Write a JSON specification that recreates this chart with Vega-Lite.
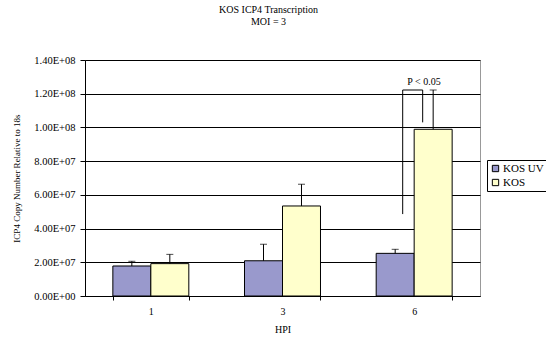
{
  "$schema": "https://vega.github.io/schema/vega-lite/v6.json",
  "autosize": "none",
  "width": 395,
  "height": 236,
  "padding": {"left": 85, "top": 60, "right": 66, "bottom": 45},
  "background": "#ffffff",
  "title": {
    "text": "KOS ICP4 Transcription",
    "subtitle": "MOI = 3",
    "font": "Liberation Serif",
    "subtitleFont": "Liberation Serif",
    "fontSize": 10,
    "subtitleFontSize": 10,
    "fontWeight": "normal",
    "color": "#000",
    "subtitleColor": "#000",
    "subtitlePadding": 2,
    "anchor": "middle",
    "frame": "group",
    "dx": -14,
    "offset": 28
  },
  "datasets": {
    "bars": [
      {"hpi": "1", "series": "KOS UV", "value": 17800000, "upper": 20600000},
      {"hpi": "1", "series": "KOS", "value": 19200000, "upper": 24700000},
      {"hpi": "3", "series": "KOS UV", "value": 20900000, "upper": 30700000},
      {"hpi": "3", "series": "KOS", "value": 53400000, "upper": 66300000},
      {"hpi": "6", "series": "KOS UV", "value": 25300000, "upper": 27700000},
      {"hpi": "6", "series": "KOS", "value": 98900000, "upper": 122200000}
    ],
    "bracket": [
      {"hpi": "6", "top": 122200000, "leftBottom": 48600000, "rightBottom": 103000000, "label": "P < 0.05", "labelY": 127100000}
    ]
  },
  "layer": [
    {
      "data": {"name": "bars"},
      "mark": {"type": "bar", "stroke": "#000", "strokeWidth": 1},
      "encoding": {
        "x": {
          "field": "hpi", "type": "nominal", "title": "HPI", "sort": ["1", "3", "6"],
          "scale": {"paddingInner": 0.423, "paddingOuter": 0.2115}
        },
        "xOffset": {"field": "series", "type": "nominal", "sort": ["KOS UV", "KOS"], "scale": {"paddingInner": 0, "paddingOuter": 0}},
        "y": {
          "field": "value", "type": "quantitative", "title": "ICP4 Copy Number Relative to 18s",
          "scale": {"domain": [0, 140000000], "nice": false, "zero": true}
        },
        "fill": {
          "field": "series", "type": "nominal",
          "scale": {"domain": ["KOS UV", "KOS"], "range": ["#9999cc", "#ffffcc"]},
          "legend": {
            "orient": "none", "legendX": 402, "legendY": 100, "title": null,
            "strokeColor": "#000", "fillColor": "#fff", "padding": 3,
            "symbolType": "square", "symbolSize": 40, "symbolStrokeColor": "#000",
            "symbolStrokeWidth": 1, "labelFontSize": 11, "labelFont": "Liberation Serif",
            "rowPadding": 2, "labelOffset": 2
          }
        }
      }
    },
    {
      "data": {"name": "bars"},
      "mark": {"type": "rule", "color": "#000", "strokeWidth": 1},
      "encoding": {
        "x": {"field": "hpi", "type": "nominal", "title": "HPI", "sort": ["1", "3", "6"]},
        "xOffset": {"field": "series", "type": "nominal", "sort": ["KOS UV", "KOS"]},
        "y": {"field": "value", "type": "quantitative", "title": "ICP4 Copy Number Relative to 18s"},
        "y2": {"field": "upper"}
      }
    },
    {
      "data": {"name": "bars"},
      "mark": {"type": "tick", "color": "#000", "thickness": 1, "size": 7, "orient": "horizontal"},
      "encoding": {
        "x": {"field": "hpi", "type": "nominal", "title": "HPI", "sort": ["1", "3", "6"]},
        "xOffset": {"field": "series", "type": "nominal", "sort": ["KOS UV", "KOS"]},
        "y": {"field": "upper", "type": "quantitative", "title": "ICP4 Copy Number Relative to 18s"}
      }
    },
    {
      "data": {"name": "bracket"},
      "mark": {"type": "rule", "color": "#000", "strokeWidth": 1},
      "encoding": {
        "x": {"field": "hpi", "type": "nominal", "title": "HPI", "bandPosition": 0.349},
        "y": {"field": "leftBottom", "type": "quantitative", "title": "ICP4 Copy Number Relative to 18s"},
        "y2": {"field": "top"}
      }
    },
    {
      "data": {"name": "bracket"},
      "mark": {"type": "rule", "color": "#000", "strokeWidth": 1},
      "encoding": {
        "x": {"field": "hpi", "type": "nominal", "title": "HPI", "bandPosition": 0.612},
        "y": {"field": "rightBottom", "type": "quantitative", "title": "ICP4 Copy Number Relative to 18s"},
        "y2": {"field": "top"}
      }
    },
    {
      "data": {"name": "bracket"},
      "mark": {"type": "rule", "color": "#000", "strokeWidth": 1},
      "encoding": {
        "x": {"field": "hpi", "type": "nominal", "title": "HPI", "bandPosition": 0.349},
        "x2": {"field": "hpi", "bandPosition": 0.612},
        "y": {"field": "top", "type": "quantitative", "title": "ICP4 Copy Number Relative to 18s"}
      }
    },
    {
      "data": {"name": "bracket"},
      "mark": {"type": "text", "font": "Liberation Serif", "fontSize": 10, "color": "#000", "baseline": "middle", "align": "center"},
      "encoding": {
        "x": {"field": "hpi", "type": "nominal", "title": "HPI", "bandPosition": 0.63},
        "y": {"field": "labelY", "type": "quantitative", "title": "ICP4 Copy Number Relative to 18s"},
        "text": {"field": "label"}
      }
    }
  ],
  "config": {
    "font": "Liberation Serif",
    "view": {"stroke": "#999", "strokeWidth": 1},
    "axis": {
      "labelFont": "Liberation Serif", "titleFont": "Liberation Serif",
      "labelColor": "#000", "titleColor": "#000", "titleFontWeight": "normal",
      "domainColor": "#000", "tickColor": "#000", "labelOverlap": false
    },
    "axisX": {
      "labelAngle": 0, "tickBand": "extent", "tickSize": 4, "labelPadding": 6,
      "labelFontSize": 10, "titleFontSize": 10, "titlePadding": 8, "grid": false
    },
    "axisY": {
      "tickCount": 7,
      "labelExpr": "datum.value == 0 ? '0.00E+00' : (datum.value >= 100000000 ? format(datum.value / 100000000, '.2f') + 'E+08' : format(datum.value / 10000000, '.2f') + 'E+07')",
      "grid": true, "gridColor": "#000", "gridWidth": 1,
      "tickSize": 5, "labelPadding": 5, "labelFontSize": 10.5,
      "titleFontSize": 9, "titleX": -69, "titleY": 118, "titleAngle": -90,
      "titleAlign": "center", "titleBaseline": "middle"
    }
  }
}
